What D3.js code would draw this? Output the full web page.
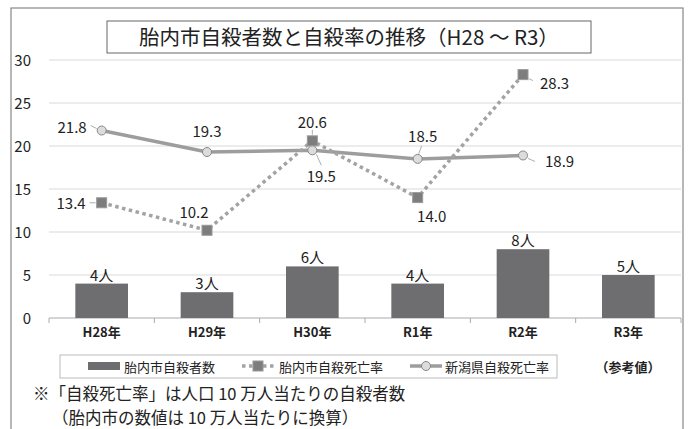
<!DOCTYPE html>
<html>
<head>
<meta charset="utf-8">
<script src="https://cdn.jsdelivr.net/npm/d3@7"></script>
<style>
  body { margin: 0; background: #fff; }
  text { font-family: "Noto Sans CJK JP", "Noto Sans", sans-serif; fill: #222; }
</style>
</head>
<body>
<div id="chart"></div>
<script>
// categories
var years = ["H28年", "H29年", "H30年", "R1年", "R2年", "R3年"];
// 胎内市自殺者数 (people)
var deaths = [4, 3, 6, 4, 8, 5];
// 胎内市自殺死亡率
var cityRate = [13.4, 10.2, 20.6, 14.0, 28.3];
// 新潟県自殺死亡率
var prefRate = [21.8, 19.3, 19.5, 18.5, 18.9];
var yTicks = [0, 5, 10, 15, 20, 25, 30];

// label placement relative to the marker: dx, dy, anchor, leader line (x1,y1,x2,y2) or null
var cityLabelPos = [
    [-16, 6, "end", [-12, 0, -6, 0]],
    [-13, -12, "middle", null],
    [0, -13, "middle", [0, -11, 0, -6]],
    [14, 24, "middle", null],
    [17, 14, "start", [6, 4, 10, 6]]
];
var prefLabelPos = [
    [-15, 2, "end", [-11, -5, -5, -2]],
    [0, -15, "middle", null],
    [9, 32, "middle", [4, 4, 9, 15]],
    [5, -17, "middle", [1, -5, 4, -13]],
    [22, 12, "start", [5, 3, 12, 6]]
];

var W = 688, H = 429;
var svg = d3.select("#chart").append("svg")
    .attr("width", W)
    .attr("height", H);

//outer frame
svg.append("rect")
    .attr("x", 11).attr("y", 8)
    .attr("width", 672).attr("height", 440)
    .attr("fill", "none")
    .attr("stroke", "#888")
    .attr("stroke-width", 1.2);

//title box
svg.append("rect")
    .attr("x", 107).attr("y", 21)
    .attr("width", 484).attr("height", 32)
    .attr("fill", "#fff")
    .attr("stroke", "#666");
svg.append("text")
    .attr("x", 349).attr("y", 45)
    .attr("text-anchor", "middle")
    .attr("font-size", 20.5)
    .text("胎内市自殺者数と自殺率の推移（H28 ～ R3）");

var x = d3.scaleBand().domain(years).range([49, 681]);
var y = d3.scaleLinear().domain([0, 30]).range([318, 60]);

//gridlines
svg.append("g").selectAll("line")
    .data(yTicks.filter(function (d) { return d > 0; }))
    .enter().append("line")
    .attr("x1", 49).attr("x2", 681)
    .attr("y1", function (d) { return y(d); })
    .attr("y2", function (d) { return y(d); })
    .attr("stroke", "#d9d9d9");

//y labels
svg.append("g").selectAll("text")
    .data(yTicks)
    .enter().append("text")
    .attr("x", 31)
    .attr("y", function (d) { return y(d) + 6; })
    .attr("text-anchor", "end")
    .attr("font-size", 15)
    .text(function (d) { return d; });

//x axis
var xAxis = svg.append("g")
    .attr("transform", "translate(0," + y(0) + ")");
xAxis.append("line")
    .attr("x1", 49).attr("x2", 681)
    .attr("stroke", "#aaa");
xAxis.selectAll(".tk")
    .data(years.concat(["end"]))
    .enter().append("line")
    .attr("class", "tk")
    .attr("x1", function (d, i) { return 49 + i * x.step(); })
    .attr("x2", function (d, i) { return 49 + i * x.step(); })
    .attr("y1", 0).attr("y2", 5)
    .attr("stroke", "#aaa");
xAxis.selectAll("text")
    .data(years)
    .enter().append("text")
    .attr("x", function (d) { return x(d) + x.bandwidth() / 2; })
    .attr("y", 19)
    .attr("text-anchor", "middle")
    .attr("font-size", 13)
    .attr("font-weight", "bold")
    .attr("fill", "#333")
    .text(function (d) { return d; });

//bars
var bw = x.bandwidth() * 0.5;
svg.append("g").selectAll("rect")
    .data(deaths)
    .enter().append("rect")
    .attr("x", function (d, i) { return x(years[i]) + (x.bandwidth() - bw) / 2; })
    .attr("y", function (d) { return y(d); })
    .attr("width", bw)
    .attr("height", function (d) { return y(0) - y(d); })
    .attr("fill", "#6e6e70");
svg.append("g").selectAll("text")
    .data(deaths)
    .enter().append("text")
    .attr("x", function (d, i) { return x(years[i]) + x.bandwidth() / 2; })
    .attr("y", function (d) { return y(d) - 3; })
    .attr("text-anchor", "middle")
    .attr("font-size", 15)
    .text(function (d) { return d + "人"; });

function cx(i) { return x(years[i]) + x.bandwidth() / 2; }

//niigata line
svg.append("path")
    .datum(prefRate)
    .attr("d", d3.line().x(function (d, i) { return cx(i); }).y(function (d) { return y(d); }))
    .attr("fill", "none")
    .attr("stroke", "#9d9d9d")
    .attr("stroke-width", 3.5);

//tainai rate line (dotted)
svg.append("path")
    .datum(cityRate)
    .attr("d", d3.line().x(function (d, i) { return cx(i); }).y(function (d) { return y(d); }))
    .attr("fill", "none")
    .attr("stroke", "#a3a3a3")
    .attr("stroke-width", 3.5)
    .attr("stroke-dasharray", "3.5,3.5");

//leader lines
function leaders(data, pos) {
    svg.append("g").selectAll("line")
        .data(data.filter(function (d, i) { return pos[i][3]; }).map(function (d) { return [d, data.indexOf(d)]; }))
        .enter().append("line")
        .attr("x1", function (d) { return cx(d[1]) + pos[d[1]][3][0]; })
        .attr("y1", function (d) { return y(d[0]) + pos[d[1]][3][1]; })
        .attr("x2", function (d) { return cx(d[1]) + pos[d[1]][3][2]; })
        .attr("y2", function (d) { return y(d[0]) + pos[d[1]][3][3]; })
        .attr("stroke", "#999")
        .attr("stroke-width", 0.8);
}
leaders(prefRate, prefLabelPos);
leaders(cityRate, cityLabelPos);

//markers
svg.append("g").selectAll("rect")
    .data(cityRate)
    .enter().append("rect")
    .attr("x", function (d, i) { return cx(i) - 5; })
    .attr("y", function (d) { return y(d) - 5; })
    .attr("width", 10).attr("height", 10)
    .attr("fill", "#7d7d7d")
    .attr("stroke", "#999");
svg.append("g").selectAll("circle")
    .data(prefRate)
    .enter().append("circle")
    .attr("cx", function (d, i) { return cx(i); })
    .attr("cy", function (d) { return y(d); })
    .attr("r", 4.5)
    .attr("fill", "#dcdcdc")
    .attr("stroke", "#888");

//point labels
function pointLabels(data, pos) {
    svg.append("g").selectAll("text")
        .data(data)
        .enter().append("text")
        .attr("x", function (d, i) { return cx(i) + pos[i][0]; })
        .attr("y", function (d, i) { return y(d) + pos[i][1]; })
        .attr("text-anchor", function (d, i) { return pos[i][2]; })
        .attr("font-size", 15)
        .text(function (d) { return d.toFixed(1); });
}
pointLabels(prefRate, prefLabelPos);
pointLabels(cityRate, cityLabelPos);

//legend
var lg = svg.append("g");
lg.append("rect")
    .attr("x", 60).attr("y", 355)
    .attr("width", 497).attr("height", 23)
    .attr("fill", "#fff")
    .attr("stroke", "#bbb");
lg.append("rect")
    .attr("x", 88).attr("y", 362)
    .attr("width", 32).attr("height", 8)
    .attr("fill", "#6e6e70");
lg.append("text").attr("x", 124).attr("y", 372).attr("font-size", 13).text("胎内市自殺者数");
lg.append("line")
    .attr("x1", 242).attr("x2", 274).attr("y1", 366).attr("y2", 366)
    .attr("stroke", "#a3a3a3").attr("stroke-width", 3.5).attr("stroke-dasharray", "3.5,3.5");
lg.append("rect")
    .attr("x", 253).attr("y", 361).attr("width", 10).attr("height", 10)
    .attr("fill", "#7d7d7d").attr("stroke", "#999");
lg.append("text").attr("x", 279).attr("y", 372).attr("font-size", 13).text("胎内市自殺死亡率");
lg.append("line")
    .attr("x1", 410).attr("x2", 442).attr("y1", 366).attr("y2", 366)
    .attr("stroke", "#9d9d9d").attr("stroke-width", 3.5);
lg.append("circle")
    .attr("cx", 426).attr("cy", 366).attr("r", 4.5)
    .attr("fill", "#dcdcdc").attr("stroke", "#888");
lg.append("text").attr("x", 445).attr("y", 372).attr("font-size", 13).text("新潟県自殺死亡率");

svg.append("text")
    .attr("x", 628).attr("y", 372)
    .attr("text-anchor", "middle")
    .attr("font-size", 13)
    .attr("font-weight", "bold")
    .attr("fill", "#333")
    .text("（参考値）");

//footnote
svg.append("text")
    .attr("x", 33).attr("y", 400)
    .attr("font-size", 16.5)
    .text("※「自殺死亡率」は人口 10 万人当たりの自殺者数");
svg.append("text")
    .attr("x", 52).attr("y", 424)
    .attr("font-size", 16.5)
    .text("（胎内市の数値は 10 万人当たりに換算）");
</script>
</body>
</html>
